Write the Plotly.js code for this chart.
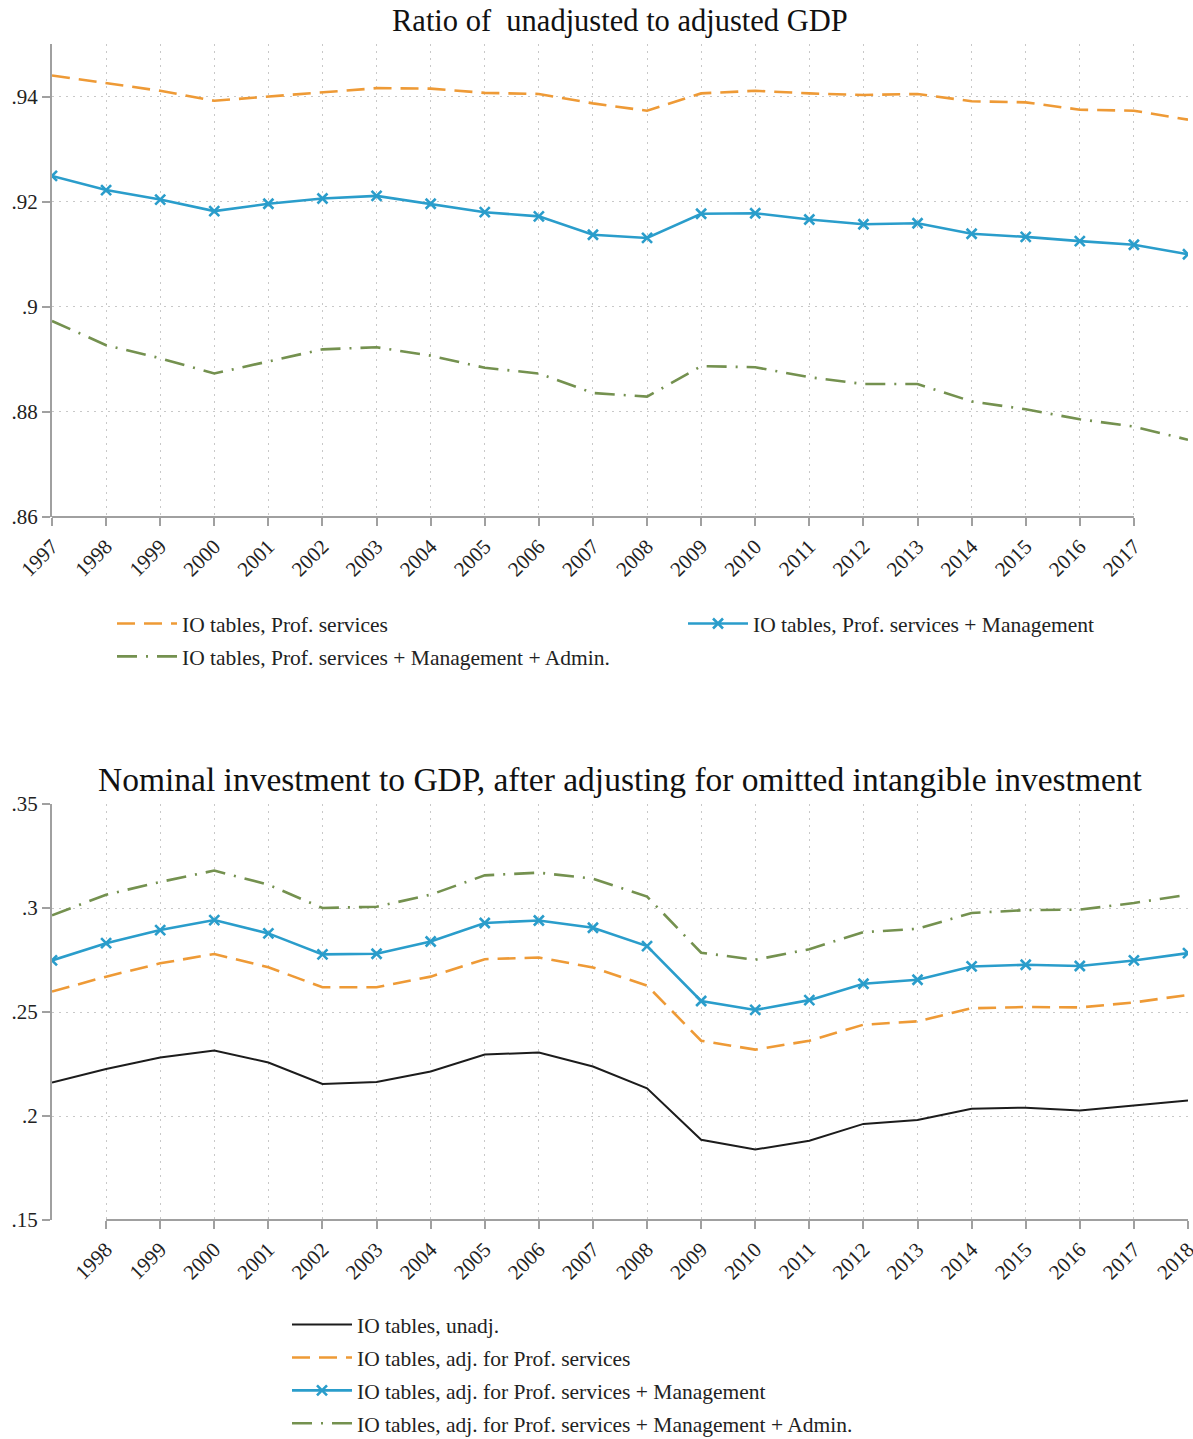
<!DOCTYPE html>
<html>
<head>
<meta charset="utf-8">
<script src="https://cdn.plot.ly/plotly-3.0.1.min.js"></script>
<style>html,body{margin:0;padding:0;background:#fff}</style>
</head>
<body>
<div id="chart" style="width:1193px;height:1439px"></div>
<script>
// ---- Data ----
const years = [1997,1998,1999,2000,2001,2002,2003,2004,2005,2006,2007,2008,2009,2010,2011,2012,2013,2014,2015,2016,2017,2018];

// Top panel: ratio of unadjusted to adjusted GDP
const ratioProf = [0.9440,0.9426,0.9411,0.9392,0.9400,0.9407,0.9416,0.9415,0.9407,0.9405,0.9387,0.9373,0.9406,0.9411,0.9406,0.9403,0.9405,0.9391,0.9389,0.9375,0.9373,0.9356];
const ratioProfMgmt = [0.9249,0.9222,0.9204,0.9182,0.9196,0.9206,0.9211,0.9196,0.9180,0.9172,0.9137,0.9131,0.9177,0.9178,0.9166,0.9157,0.9159,0.9139,0.9133,0.9125,0.9118,0.9100];
const ratioProfMgmtAdmin = [0.8973,0.8927,0.8902,0.8873,0.8896,0.8919,0.8923,0.8907,0.8884,0.8873,0.8836,0.8829,0.8887,0.8885,0.8866,0.8853,0.8853,0.8820,0.8805,0.8786,0.8772,0.8747];

// Bottom panel: nominal investment to GDP
const invUnadj = [0.2161,0.2226,0.2281,0.2315,0.2257,0.2154,0.2164,0.2214,0.2296,0.2305,0.2238,0.2133,0.1886,0.1839,0.1881,0.1962,0.1981,0.2035,0.2040,0.2026,0.2050,0.2074];
const invProf = [0.2598,0.2670,0.2734,0.2779,0.2715,0.2619,0.2619,0.2670,0.2754,0.2762,0.2714,0.2627,0.2362,0.2319,0.2362,0.2439,0.2455,0.2518,0.2524,0.2522,0.2546,0.2582];
const invProfMgmt = [0.2748,0.2831,0.2894,0.2942,0.2878,0.2777,0.2780,0.2839,0.2928,0.2940,0.2905,0.2817,0.2553,0.2510,0.2557,0.2636,0.2655,0.2719,0.2727,0.2721,0.2748,0.2783];
const invProfMgmtAdmin = [0.2965,0.3064,0.3125,0.3180,0.3112,0.3000,0.3006,0.3064,0.3157,0.3170,0.3141,0.3055,0.2785,0.2751,0.2802,0.2884,0.2900,0.2976,0.2990,0.2992,0.3024,0.3064];

// Tick labels
const topXTicks = [1997,1998,1999,2000,2001,2002,2003,2004,2005,2006,2007,2008,2009,2010,2011,2012,2013,2014,2015,2016,2017];
const botXTicks = [1998,1999,2000,2001,2002,2003,2004,2005,2006,2007,2008,2009,2010,2011,2012,2013,2014,2015,2016,2017,2018];
const topYTicks = [0.86,0.88,0.90,0.92,0.94];
const topYText = ['.86','.88','.9','.92','.94'];
const botYTicks = [0.15,0.20,0.25,0.30,0.35];
const botYText = ['.15','.2','.25','.3','.35'];

const topTitle = 'Ratio of  unadjusted to adjusted GDP';
const botTitle = 'Nominal investment to GDP, after adjusting for omitted intangible investment';

const names = {
  topProf: 'IO tables, Prof. services',
  topMgmt: 'IO tables, Prof. services + Management',
  topAdmin: 'IO tables, Prof. services + Management + Admin.',
  botUnadj: 'IO tables, unadj.',
  botProf: 'IO tables, adj. for Prof. services',
  botMgmt: 'IO tables, adj. for Prof. services + Management',
  botAdmin: 'IO tables, adj. for Prof. services + Management + Admin.'
};

// ---- Styles ----
const ORANGE = '#EE9A36';
const BLUE = '#2A9DCB';
const GREEN = '#74914F';
const BLACK = '#1c1c1c';
const FONT = 'Liberation Serif, Times New Roman, serif';
const dashOrange = '18px,9px';
const dashGreen = '20px,9px,2px,9px';

const traces = [
  {x: years, y: ratioProf, name: names.topProf, mode: 'lines', xaxis: 'x', yaxis: 'y',
   line: {color: ORANGE, width: 2.6, dash: dashOrange}, legend: 'legend', legendgroup: 'a1'},
  {x: years, y: ratioProfMgmtAdmin, name: names.topAdmin, mode: 'lines', xaxis: 'x', yaxis: 'y',
   line: {color: GREEN, width: 2.6, dash: dashGreen}, legend: 'legend', legendgroup: 'a2'},
  {x: years, y: ratioProfMgmt, name: names.topMgmt, mode: 'lines+markers', xaxis: 'x', yaxis: 'y',
   line: {color: BLUE, width: 2.6}, marker: {symbol: 'x-thin', size: 10, line: {color: BLUE, width: 2.6}, color: BLUE},
   legend: 'legend2', legendgroup: 'a3'},

  {x: years, y: invUnadj, name: names.botUnadj, mode: 'lines', xaxis: 'x2', yaxis: 'y2',
   line: {color: BLACK, width: 2}, legend: 'legend3', legendgroup: 'b1'},
  {x: years, y: invProf, name: names.botProf, mode: 'lines', xaxis: 'x2', yaxis: 'y2',
   line: {color: ORANGE, width: 2.6, dash: dashOrange}, legend: 'legend3', legendgroup: 'b2'},
  {x: years, y: invProfMgmt, name: names.botMgmt, mode: 'lines+markers', xaxis: 'x2', yaxis: 'y2',
   line: {color: BLUE, width: 2.6}, marker: {symbol: 'x-thin', size: 10, line: {color: BLUE, width: 2.6}, color: BLUE},
   legend: 'legend3', legendgroup: 'b3'},
  {x: years, y: invProfMgmtAdmin, name: names.botAdmin, mode: 'lines', xaxis: 'x2', yaxis: 'y2',
   line: {color: GREEN, width: 2.6, dash: dashGreen}, legend: 'legend3', legendgroup: 'b4'}
];

const W = 1193, H = 1439;
const mL = 52, mR = 5, mT = 44, mB = 219;
const plotH = H - mT - mB;   // 1176
const topBottomPx = 517, botTopPx = 804;
const topDomain = [(H - mB - topBottomPx) / plotH, 1];
const botDomain = [0, (H - mB - botTopPx) / plotH];

const gridColor = '#c8c8c8';
const axisColor = '#a0a0a0';
const tickFont = {family: FONT, size: 21, color: '#222'};
const legFont = {family: FONT, size: 21.5, color: '#222'};

function xAxis(ticks, anchor) {
  return {
    range: [years[0], years[years.length - 1]], anchor: anchor,
    tickmode: 'array', tickvals: ticks, ticktext: ticks.map(String),
    tickangle: -45, tickfont: tickFont, ticks: 'outside', ticklen: 8, tickwidth: 1.5, tickcolor: axisColor,
    ticklabeloverflow: 'allow',
    showgrid: true, gridcolor: gridColor, griddash: '2px,5px', gridwidth: 1,
    showline: false, zeroline: false, automargin: false
  };
}
function yAxis(ticks, text, range, domain, anchor) {
  return {
    range: range, domain: domain, anchor: anchor,
    tickmode: 'array', tickvals: ticks, ticktext: text,
    tickfont: tickFont, ticks: 'outside', ticklen: 8, tickwidth: 1.5, tickcolor: axisColor,
    ticklabeloverflow: 'allow',
    showgrid: true, gridcolor: gridColor, griddash: '2px,5px', gridwidth: 1,
    showline: true, linecolor: axisColor, linewidth: 2, zeroline: false, automargin: false
  };
}

const layout = {
  width: W, height: H,
  margin: {l: mL, r: mR, t: mT, b: mB, autoexpand: false},
  paper_bgcolor: '#fff', plot_bgcolor: '#fff',
  font: {family: FONT, color: '#222'},
  showlegend: true,
  xaxis: xAxis(topXTicks, 'y'),
  yaxis: yAxis(topYTicks, topYText, [0.86, 0.95], topDomain, 'x'),
  xaxis2: xAxis(botXTicks, 'y2'),
  yaxis2: yAxis(botYTicks, botYText, [0.15, 0.35], botDomain, 'x2'),
  shapes: [
    {type: 'line', xref: 'x', yref: 'y domain', x0: topXTicks[0], x1: topXTicks[topXTicks.length - 1], y0: 0, y1: 0,
     line: {color: axisColor, width: 2}},
    {type: 'line', xref: 'x2', yref: 'y2 domain', x0: botXTicks[0], x1: botXTicks[botXTicks.length - 1], y0: 0, y1: 0,
     line: {color: axisColor, width: 2}}
  ],
  annotations: [
    {text: topTitle, xref: 'paper', yref: 'paper', x: 0.5, y: topDomain[1], yanchor: 'bottom', yshift: 4,
     showarrow: false, font: {family: FONT, size: 30.5, color: '#111'}},
    {text: botTitle, xref: 'paper', yref: 'paper', x: 0.5, y: botDomain[1], yanchor: 'bottom', yshift: 4,
     showarrow: false, font: {family: FONT, size: 33.5, color: '#111'}}
  ],
  legend: {x: (112 - mL) / (W - mL - mR), xanchor: 'left', y: (H - mB - 603) / plotH, yanchor: 'top',
           orientation: 'v', font: legFont, itemwidth: 60,
           bgcolor: 'rgba(0,0,0,0)', tracegroupgap: 2},
  legend2: {x: (683 - mL) / (W - mL - mR), xanchor: 'left', y: (H - mB - 603) / plotH, yanchor: 'top',
           orientation: 'v', font: legFont, itemwidth: 60,
           bgcolor: 'rgba(0,0,0,0)', tracegroupgap: 2},
  legend3: {x: (287 - mL) / (W - mL - mR), xanchor: 'left', y: (H - mB - 1304) / plotH, yanchor: 'top',
           orientation: 'v', font: legFont, itemwidth: 60,
           bgcolor: 'rgba(0,0,0,0)', tracegroupgap: 2}
};

Plotly.newPlot('chart', traces, layout, {displayModeBar: false, responsive: false});
</script>
</body>
</html>
